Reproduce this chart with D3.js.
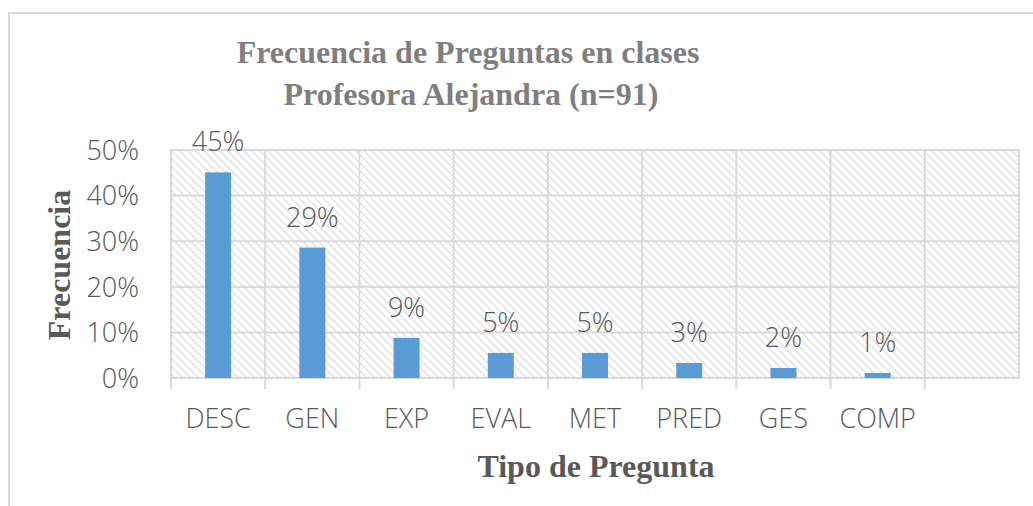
<!DOCTYPE html>
<html>
<head>
<meta charset="utf-8">
<script src="https://cdn.jsdelivr.net/npm/d3@7"></script>
<style>
  body { margin: 0; background: #fff; }
  svg { display: block; }
</style>
</head>
<body>
<div id="chart"></div>
<script>
// Donnees du graphique
const categorias = ["DESC", "GEN", "EXP", "EVAL", "MET", "PRED", "GES", "COMP", ""];
const valores = [45.1, 28.6, 8.8, 5.5, 5.5, 3.3, 2.2, 1.1, null];
const etiquetas = ["45%", "29%", "9%", "5%", "5%", "3%", "2%", "1%", ""];
const ticksY = [0, 10, 20, 30, 40, 50];

const W = 1033, H = 506;
const margin = {top: 150, right: 14, bottom: 128, left: 171},
    width = 1019 - margin.left,
    height = 378 - margin.top;

const fontLight = "'Open Sans', 'Noto Sans', sans-serif";
const fontSerif = "'Liberation Serif', 'Times New Roman', serif";

const svg = d3.select("#chart")
    .append("svg")
    .attr("width", W)
    .attr("height", H);

// Motif hachure
const defs = svg.append("defs");
const pat = defs.append("pattern")
    .attr("id", "hatch")
    .attr("patternUnits", "userSpaceOnUse")
    .attr("width", 8)
    .attr("height", 8);
pat.append("rect").attr("width", 8).attr("height", 8).attr("fill", "#fff");
pat.append("path")
    .attr("d", "M-2,-2 L10,10 M-6,2 L6,14 M2,-6 L14,6")
    .attr("stroke", "#e0e0e0")
    .attr("stroke-width", 1.3);

// Cadre exterieur
svg.append("path")
    .attr("d", `M9,${H} L9,13 L${W},13`)
    .attr("fill", "none")
    .attr("stroke", "#d9d9d9")
    .attr("stroke-width", 2);

// Titre
const titre = svg.append("text")
    .attr("text-anchor", "middle")
    .style("font-family", fontSerif)
    .style("font-weight", "bold")
    .style("font-size", "32px")
    .attr("fill", "#7f7f7f");
titre.append("tspan").attr("x", 468).attr("y", 63).text("Frecuencia de Preguntas en clases");
titre.append("tspan").attr("x", 471).attr("y", 105).text("Profesora Alejandra (n=91)");

const g = svg.append("g")
    .attr("transform", `translate(${margin.left},${margin.top})`);

// Echelles
const x = d3.scaleBand()
    .domain(d3.range(categorias.length))
    .range([0, width]);
const y = d3.scaleLinear()
    .domain([0, 50])
    .range([height, 0]);

// Fond hachure
g.append("rect")
    .attr("width", width)
    .attr("height", height)
    .attr("fill", "url(#hatch)");

// Grille horizontale
g.selectAll(".hgrid")
    .data(ticksY)
    .join("line")
    .attr("x1", 0)
    .attr("x2", width)
    .attr("y1", d => y(d))
    .attr("y2", d => y(d))
    .attr("stroke", "#d9d9d9")
    .attr("stroke-width", 2);

// Grille verticale (avec petites marques sous l'axe)
const bords = d3.range(categorias.length + 1);
g.selectAll(".vgrid")
    .data(bords)
    .join("line")
    .attr("x1", d => d < categorias.length ? x(d) : width)
    .attr("x2", d => d < categorias.length ? x(d) : width)
    .attr("y1", 0)
    .attr("y2", (d, i) => i < categorias.length ? height + 11 : height)
    .attr("stroke", "#d9d9d9")
    .attr("stroke-width", 2);

// Barres
const bw = 26;
const barres = valores.map((v, i) => ({v, i})).filter(d => d.v !== null);
g.selectAll(".bar")
    .data(barres)
    .join("rect")
    .attr("x", d => x(d.i) + x.bandwidth() / 2 - bw / 2)
    .attr("y", d => y(d.v))
    .attr("width", bw)
    .attr("height", d => height - y(d.v))
    .attr("fill", "#5b9bd5");

// Etiquettes des valeurs
g.selectAll(".lab")
    .data(barres)
    .join("text")
    .attr("x", d => x(d.i) + x.bandwidth() / 2)
    .attr("y", d => y(d.v) - 21)
    .attr("text-anchor", "middle")
    .style("font-family", fontLight)
    .style("font-weight", 300)
    .style("font-size", "27px")
    .attr("fill", "#595959")
    .text(d => etiquetas[d.i]);

// Axe Y
g.selectAll(".ytick")
    .data(ticksY)
    .join("text")
    .attr("x", -32)
    .attr("y", d => y(d))
    .attr("dy", "0.36em")
    .attr("text-anchor", "end")
    .style("font-family", fontLight)
    .style("font-weight", 300)
    .style("font-size", "27px")
    .attr("fill", "#595959")
    .text(d => d + "%");

// Axe X
g.selectAll(".xtick")
    .data(categorias.map((c, i) => ({c, i})))
    .join("text")
    .attr("x", d => x(d.i) + x.bandwidth() / 2)
    .attr("y", height + 50)
    .attr("text-anchor", "middle")
    .style("font-family", fontLight)
    .style("font-weight", 300)
    .style("font-size", "27px")
    .attr("fill", "#595959")
    .text(d => d.c);

// Titres des axes
svg.append("text")
    .attr("x", 596)
    .attr("y", 477)
    .attr("text-anchor", "middle")
    .style("font-family", fontSerif)
    .style("font-weight", "bold")
    .style("font-size", "32px")
    .attr("fill", "#595959")
    .text("Tipo de Pregunta");

svg.append("text")
    .attr("transform", "translate(70,265) rotate(-90)")
    .attr("text-anchor", "middle")
    .style("font-family", fontSerif)
    .style("font-weight", "bold")
    .style("font-size", "32px")
    .attr("fill", "#595959")
    .text("Frecuencia");
</script>
</body>
</html>
